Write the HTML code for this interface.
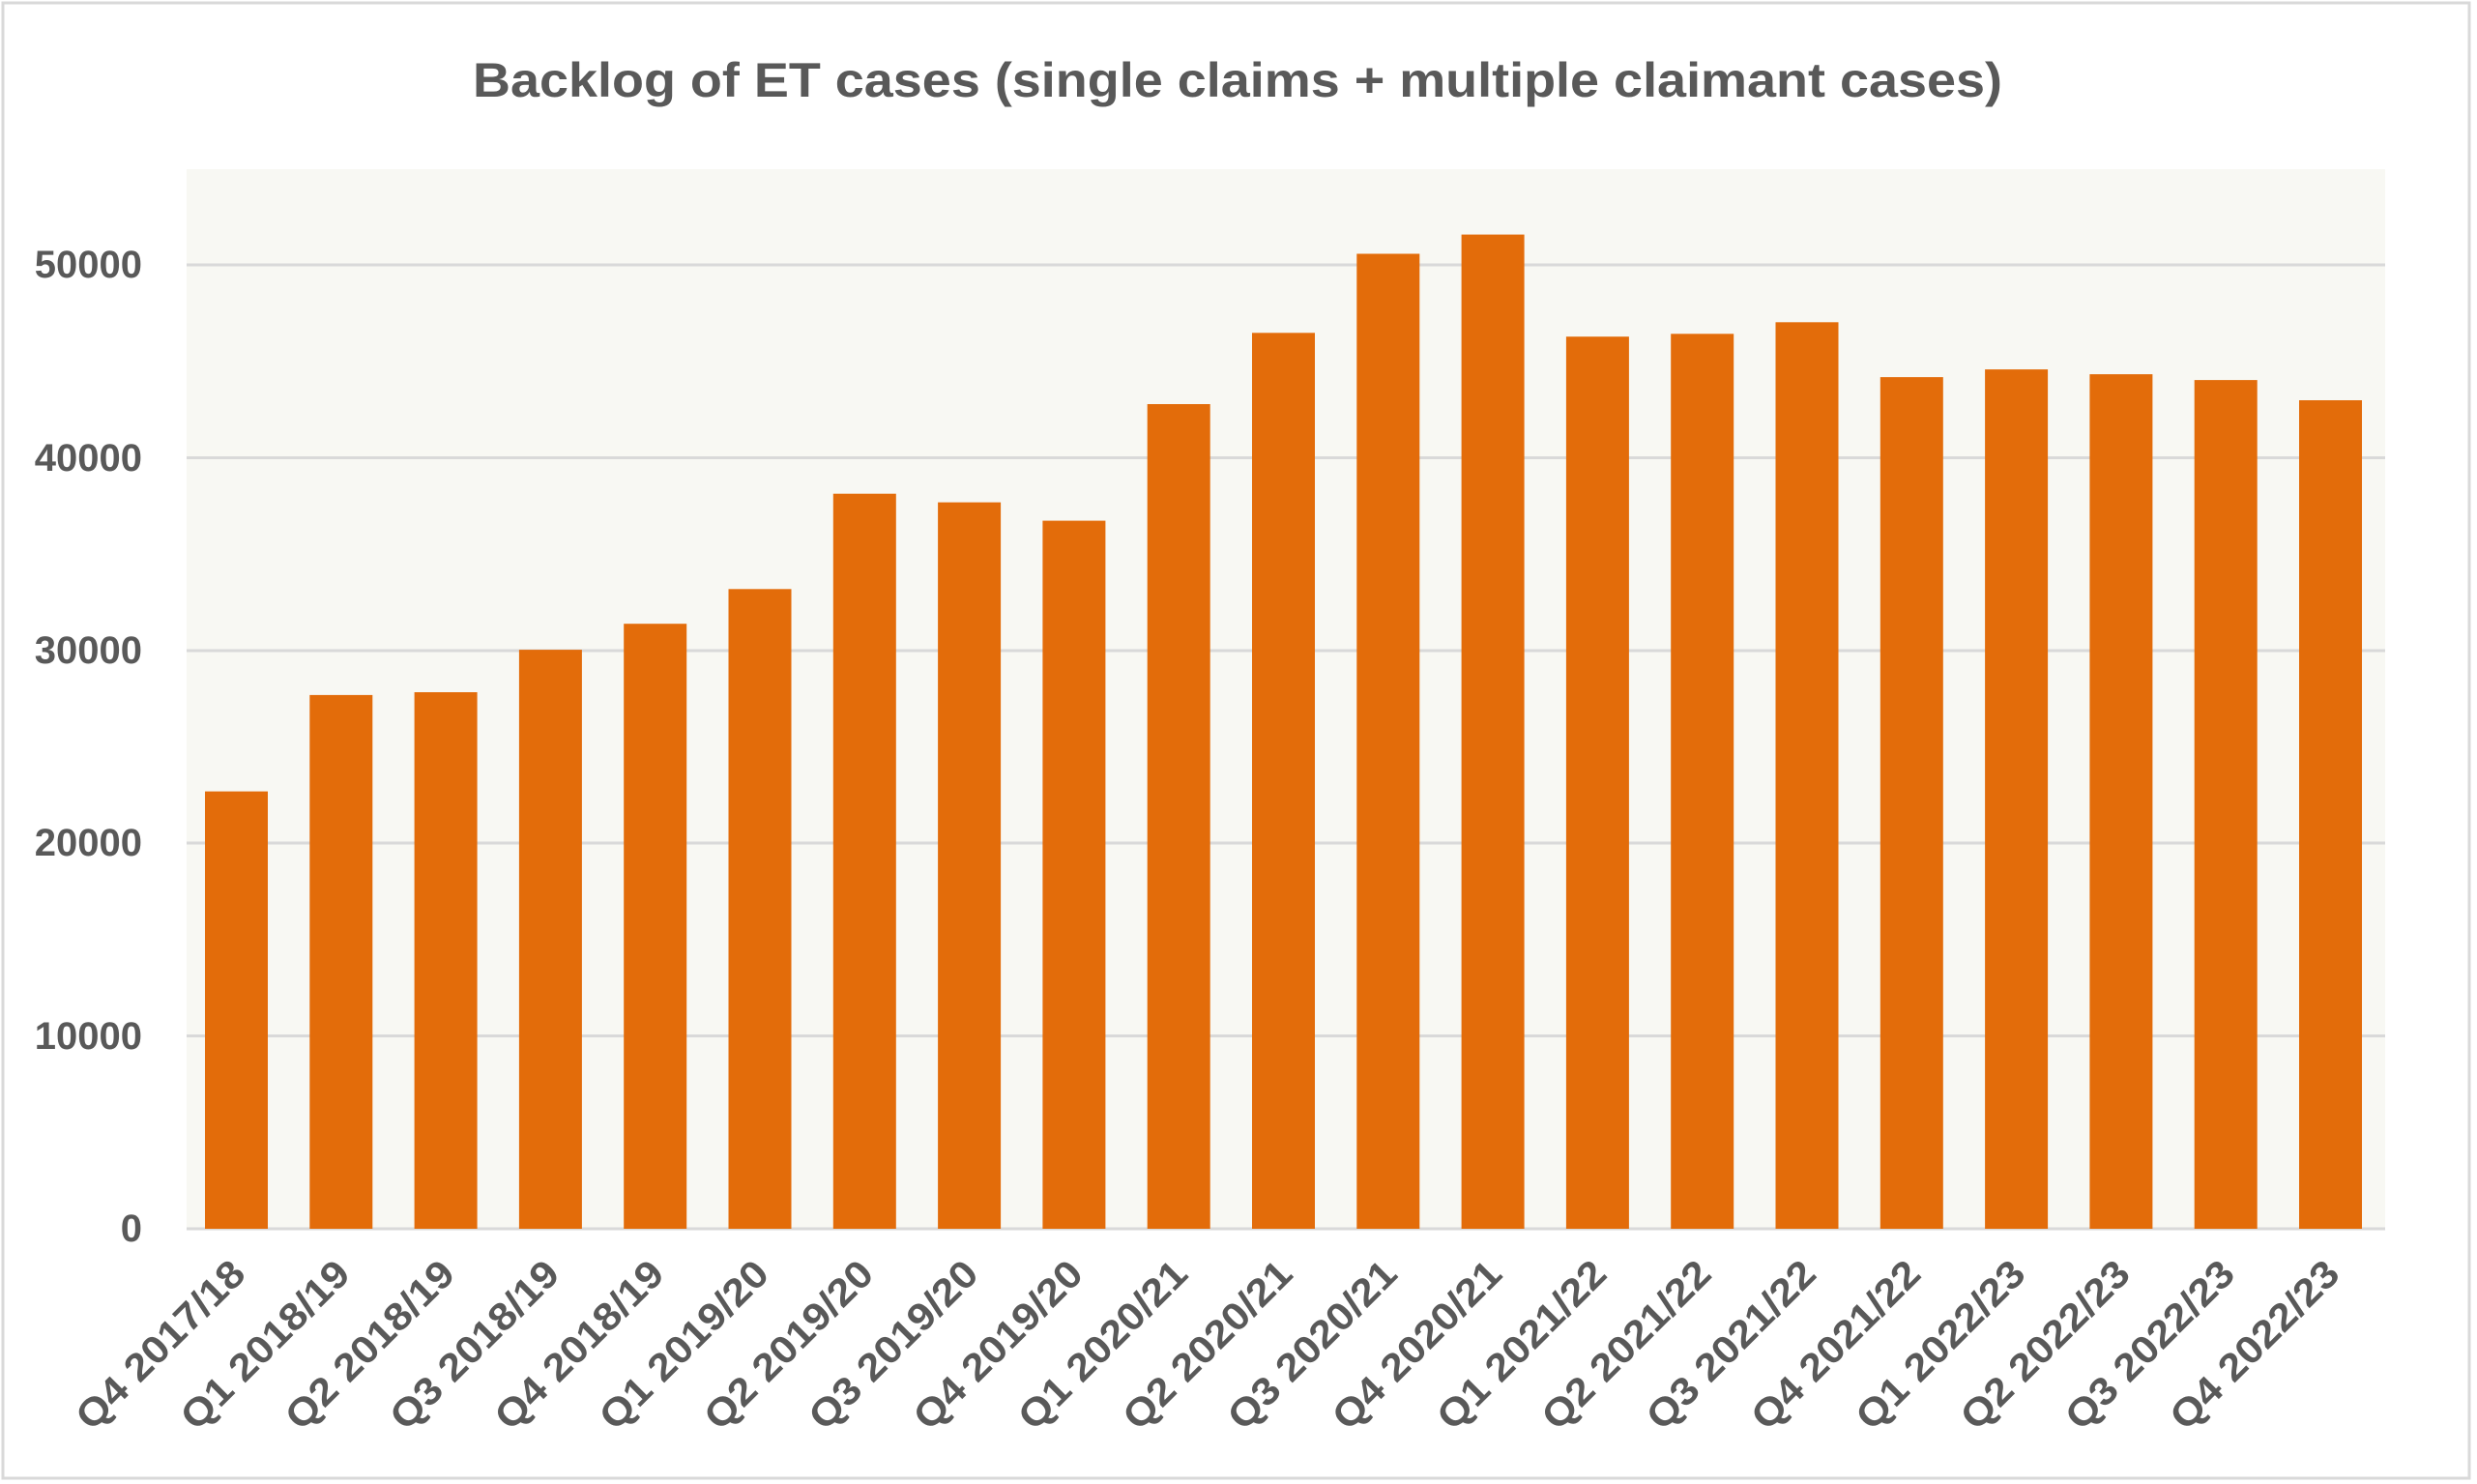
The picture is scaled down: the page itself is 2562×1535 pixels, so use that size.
<!DOCTYPE html>
<html><head><meta charset="utf-8"><style>html,body{margin:0;padding:0;background:#fff}svg{display:block}</style></head>
<body>
<svg width="2562" height="1535" viewBox="0 0 2562 1535" xmlns="http://www.w3.org/2000/svg" font-family="Liberation Sans, sans-serif" font-weight="bold">
<rect x="0" y="0" width="2562" height="1535" fill="#fff"/>
<rect x="3" y="3" width="2551" height="1526" fill="none" stroke="#d9d9d9" stroke-width="3"/>
<text x="1280" y="100" text-anchor="middle" font-size="50" fill="#595959" textLength="1582" lengthAdjust="spacingAndGlyphs">Backlog of ET cases (single claims + multiple claimant cases)</text>
<rect x="193" y="175" width="2274" height="1096" fill="#f8f8f3"/>
<g stroke="#d9d9d9" stroke-width="3">
<line x1="193" x2="2467" y1="274" y2="274"/>
<line x1="193" x2="2467" y1="473.5" y2="473.5"/>
<line x1="193" x2="2467" y1="673" y2="673"/>
<line x1="193" x2="2467" y1="872" y2="872"/>
<line x1="193" x2="2467" y1="1071.5" y2="1071.5"/>
<line x1="193" x2="2467" y1="1271" y2="1271"/>
</g>
<g font-size="40" fill="#595959" text-anchor="end">
<text x="147" y="287">50000</text>
<text x="147" y="487">40000</text>
<text x="147" y="686">30000</text>
<text x="147" y="885">20000</text>
<text x="147" y="1085">10000</text>
<text x="147" y="1284">0</text>
</g>
<g fill="#e36c0a">
<rect x="212" y="818.6" width="65" height="452.4"/>
<rect x="320.3" y="718.9" width="65" height="552.1"/>
<rect x="428.6" y="716" width="65" height="555"/>
<rect x="536.9" y="672.1" width="65" height="598.9"/>
<rect x="645.2" y="645.2" width="65" height="625.8"/>
<rect x="753.5" y="609.3" width="65" height="661.7"/>
<rect x="861.8" y="510.7" width="65" height="760.3"/>
<rect x="970.1" y="519.6" width="65" height="751.4"/>
<rect x="1078.4" y="538.6" width="65" height="732.4"/>
<rect x="1186.7" y="418" width="65" height="853"/>
<rect x="1295" y="344.3" width="65" height="926.7"/>
<rect x="1403.3" y="262.5" width="65" height="1008.5"/>
<rect x="1511.6" y="242.6" width="65" height="1028.4"/>
<rect x="1619.9" y="348.2" width="65" height="922.8"/>
<rect x="1728.2" y="345.3" width="65" height="925.7"/>
<rect x="1836.5" y="333.3" width="65" height="937.7"/>
<rect x="1944.8" y="390.1" width="65" height="880.9"/>
<rect x="2053.1" y="382.1" width="65" height="888.9"/>
<rect x="2161.4" y="387.1" width="65" height="883.9"/>
<rect x="2269.7" y="393.1" width="65" height="877.9"/>
<rect x="2378" y="414" width="65" height="857"/>
</g>
<g font-size="40" fill="#595959" text-anchor="end">
<text transform="translate(256,1320) rotate(-45)" textLength="228" lengthAdjust="spacingAndGlyphs">Q4 2017/18</text>
<text transform="translate(364.3,1320) rotate(-45)" textLength="228" lengthAdjust="spacingAndGlyphs">Q1 2018/19</text>
<text transform="translate(472.6,1320) rotate(-45)" textLength="228" lengthAdjust="spacingAndGlyphs">Q2 2018/19</text>
<text transform="translate(580.9,1320) rotate(-45)" textLength="228" lengthAdjust="spacingAndGlyphs">Q3 2018/19</text>
<text transform="translate(689.2,1320) rotate(-45)" textLength="228" lengthAdjust="spacingAndGlyphs">Q4 2018/19</text>
<text transform="translate(797.5,1320) rotate(-45)" textLength="228" lengthAdjust="spacingAndGlyphs">Q1 2019/20</text>
<text transform="translate(905.8,1320) rotate(-45)" textLength="228" lengthAdjust="spacingAndGlyphs">Q2 2019/20</text>
<text transform="translate(1014.1,1320) rotate(-45)" textLength="228" lengthAdjust="spacingAndGlyphs">Q3 2019/20</text>
<text transform="translate(1122.4,1320) rotate(-45)" textLength="228" lengthAdjust="spacingAndGlyphs">Q4 2019/20</text>
<text transform="translate(1230.7,1320) rotate(-45)" textLength="228" lengthAdjust="spacingAndGlyphs">Q1 2020/21</text>
<text transform="translate(1339,1320) rotate(-45)" textLength="228" lengthAdjust="spacingAndGlyphs">Q2 2020/21</text>
<text transform="translate(1447.3,1320) rotate(-45)" textLength="228" lengthAdjust="spacingAndGlyphs">Q3 2020/21</text>
<text transform="translate(1555.6,1320) rotate(-45)" textLength="228" lengthAdjust="spacingAndGlyphs">Q4 2020/21</text>
<text transform="translate(1663.9,1320) rotate(-45)" textLength="228" lengthAdjust="spacingAndGlyphs">Q1 2021/22</text>
<text transform="translate(1772.2,1320) rotate(-45)" textLength="228" lengthAdjust="spacingAndGlyphs">Q2 2021/22</text>
<text transform="translate(1880.5,1320) rotate(-45)" textLength="228" lengthAdjust="spacingAndGlyphs">Q3 2021/22</text>
<text transform="translate(1988.8,1320) rotate(-45)" textLength="228" lengthAdjust="spacingAndGlyphs">Q4 2021/22</text>
<text transform="translate(2097.1,1320) rotate(-45)" textLength="228" lengthAdjust="spacingAndGlyphs">Q1 2022/23</text>
<text transform="translate(2205.4,1320) rotate(-45)" textLength="228" lengthAdjust="spacingAndGlyphs">Q2 2022/23</text>
<text transform="translate(2313.7,1320) rotate(-45)" textLength="228" lengthAdjust="spacingAndGlyphs">Q3 2022/23</text>
<text transform="translate(2422,1320) rotate(-45)" textLength="228" lengthAdjust="spacingAndGlyphs">Q4 2022/23</text>
</g>
</svg>
</body></html>
